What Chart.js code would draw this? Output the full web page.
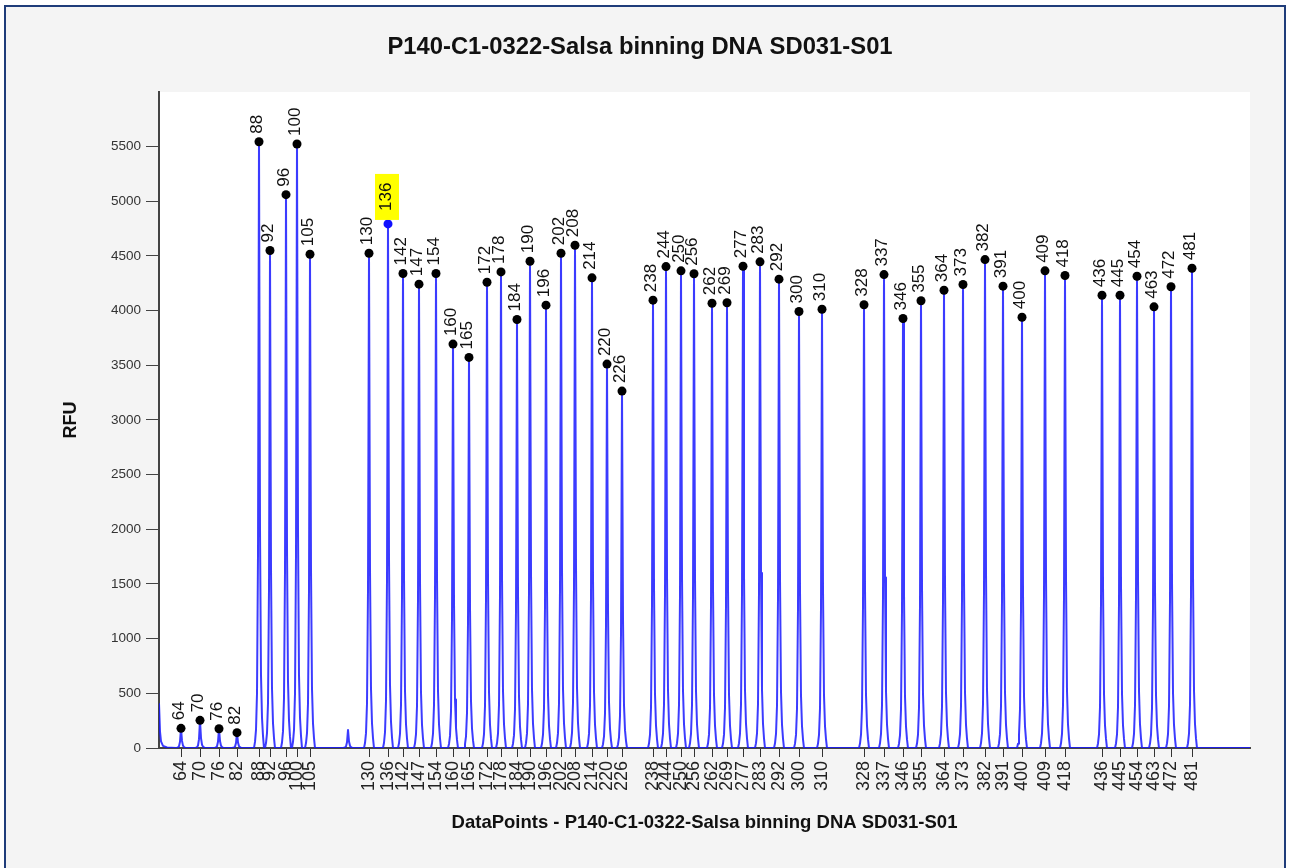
<!DOCTYPE html>
<html><head><meta charset="utf-8">
<script src="https://cdn.jsdelivr.net/npm/chart.js@4.4.1/dist/chart.umd.min.js"></script>
<style>html,body{margin:0;padding:0;background:#fff;}canvas{display:block;}</style>
</head><body>
<canvas id="c" width="1290" height="868"></canvas>
<script>
// Peak sizes (bp) used as tick labels and peak annotations
const sizeLabels = [64,70,76,82,88,92,96,100,105,130,136,142,147,154,160,165,172,178,184,190,196,202,208,214,220,226,238,244,250,256,262,269,277,283,292,300,310,328,337,346,355,364,373,382,391,400,409,418,436,445,454,463,472,481];
// Peak positions on the DataPoints axis
const peakPos = [22,41,60,78,100,111,127,138,151,210,229,244,260,277,294,310,328,342,358,371,387,402,416,433,448,463,494,507,522,535,553,568,584,601,620,640,663,705,725,744,762,785,804,826,844,863,886,906,943,961,978,995,1012,1033];
// Peak heights (RFU)
const peakRFU = [180,253,176,140,5545,4550,5061,5524,4516,4525,4793,4340,4242,4340,3694,3572,4260,4354,3919,4452,4050,4525,4598,4300,3511,3264,4096,4403,4364,4337,4068,4072,4406,4446,4288,3992,4013,4054,4330,3928,4090,4187,4239,4467,4224,3940,4364,4321,4141,4141,4315,4035,4218,4388];
// Unlabelled small peak(s)
const minorPos = [189];
const minorRFU = [165];
// Start of the trace at the left edge
const edgeX = [0,1,2,4,8];
const edgeRFU = [410,150,60,20,5];
// Peak shape: offsets (DataPoints) and share of peak height
const profileOffset = [-5,-4,-3,-2,-1,0,1,2,3,4,5];
const profileShare  = [0,0.01,0.03,0.09,0.32,1,0.36,0.12,0.05,0.02,0];
const traceEnd = 1091;
const highlightSize = 136;

const FAMILY = '"Liberation Sans", Arial, Helvetica, sans-serif';
Chart.defaults.font.family = FAMILY;

// Build trace points
const trace = [];
edgeX.forEach((x,i)=>trace.push({x:x, y:edgeRFU[i]}));
const allPos = peakPos.concat(minorPos), allH = peakRFU.concat(minorRFU);
allPos.forEach((p,i)=>profileOffset.forEach((o,k)=>trace.push({x:p+o, y:allH[i]*profileShare[k]})));
trace.push({x:traceEnd, y:0});
trace.sort((a,b)=>a.x-b.x);

const dots = peakPos.map((p,i)=>({x:p, y:peakRFU[i]}));
const dotColors = sizeLabels.map(s => s === highlightSize ? '#1010ff' : '#000000');

const bgPlugin = {
  id:'bg',
  beforeDraw(chart){
    const {ctx, chartArea:a} = chart;
    ctx.save();
    ctx.fillStyle = '#ffffff'; ctx.fillRect(0,0,chart.width,chart.height);
    ctx.fillStyle = '#f4f4f4'; ctx.fillRect(5,6,1280,870);
    ctx.strokeStyle = '#1f3c7a'; ctx.lineWidth = 2; ctx.strokeRect(5,6,1280,900);
    ctx.fillStyle = '#ffffff'; ctx.fillRect(a.left,a.top,a.right-a.left,a.bottom-a.top);
    ctx.restore();
  }
};

const labelPlugin = {
  id:'peakLabels',
  afterDatasetsDraw(chart){
    const {ctx, scales:{x, y}} = chart;
    ctx.save();
    ctx.font = '17px ' + FAMILY;
    ctx.textBaseline = 'middle';
    ctx.textAlign = 'left';
    peakPos.forEach((p,i)=>{
      const px = x.getPixelForValue(p), py = y.getPixelForValue(peakRFU[i]);
      ctx.save();
      ctx.translate(px-2, py-8);
      ctx.rotate(-Math.PI/2);
      if (sizeLabels[i] === highlightSize) {
        ctx.fillStyle = '#ffff00';
        ctx.fillRect(-4,-11,46,24);
      }
      ctx.fillStyle = '#111111';
      ctx.fillText(String(sizeLabels[i]), sizeLabels[i] === highlightSize ? 5 : 0, 0);
      ctx.restore();
    });
    ctx.restore();
  }
};

new Chart(document.getElementById('c'), {
  type:'line',
  data:{datasets:[
    {data:dots, showLine:false, pointRadius:4.5, pointHoverRadius:4.5, pointBackgroundColor:dotColors, pointBorderColor:dotColors, pointBorderWidth:0, order:0},
    {data:trace, borderColor:'rgba(25,25,255,0.85)', borderWidth:2, borderJoinStyle:'round', pointRadius:0, tension:0, fill:false, order:1}
  ]},
  options:{
    responsive:false, animation:false, events:[],
    layout:{padding:{left:30,right:40,top:0,bottom:0}},
    plugins:{
      legend:{display:false}, tooltip:{enabled:false},
      title:{display:true, text:'P140-C1-0322-Salsa binning DNA SD031-S01', color:'#111',
        font:{size:23.8, weight:'bold', family:FAMILY}, padding:{top:32.7, bottom:30.7}}
    },
    scales:{
      x:{type:'linear', min:0, max:traceEnd,
        afterBuildTicks: s => { s.ticks = peakPos.map(v=>({value:v})); },
        afterFit: s => { s.height = 120; },
        ticks:{autoSkip:false, minRotation:90, maxRotation:90, padding:4, color:'#222',
          font:{size:18, family:FAMILY},
          callback:(v,i)=>String(sizeLabels[i])},
        grid:{drawOnChartArea:false, tickLength:9, color:'#333', lineWidth:1},
        border:{display:true, color:'#444', width:2},
        title:{display:true, text:'DataPoints - P140-C1-0322-Salsa binning DNA SD031-S01', color:'#111',
          font:{size:18.5, weight:'bold', family:FAMILY}, padding:{top:0, bottom:34}}
      },
      y:{min:0, max:6000,
        afterBuildTicks: s => { s.ticks = s.ticks.filter(t=>t.value<=5500); },
        afterFit: s => { s.width = 129; },
        ticks:{stepSize:500, padding:5, color:'#333', font:{size:13.5, family:FAMILY}, callback:v=>String(v)},
        grid:{drawOnChartArea:false, tickLength:13, color:'#444', lineWidth:1},
        border:{display:true, color:'#444', width:2},
        title:{display:true, text:'RFU', color:'#111', font:{size:18, weight:'bold', family:FAMILY}, padding:{top:30.5, bottom:0}}
      }
    }
  },
  plugins:[bgPlugin, labelPlugin]
});
</script>
</body></html>
